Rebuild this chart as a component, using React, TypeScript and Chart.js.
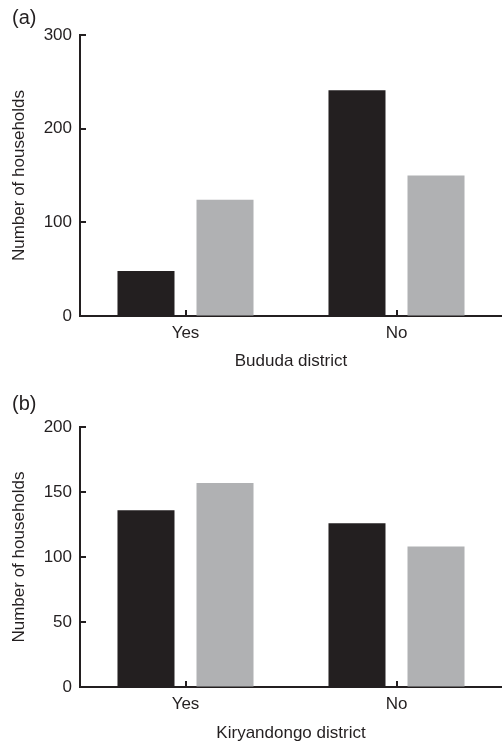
import React, { useEffect, useRef } from "react";
import { Chart, registerables } from "chart.js";

Chart.register(...registerables);

const categories = ["Yes", "No"];
const bududaBlack = [48, 241];
const bududaGray = [124, 150];
const kiryBlack = [136, 126];
const kiryGray = [157, 108];
const bududaTicks = [0, 100, 200, 300];
const kiryTicks = [0, 50, 100, 150, 200];
const yTitle = "Number of households";

const FONT = "'Liberation Sans', Arial, Helvetica, sans-serif";
const INK = "#231f20";
const GRAY = "#b0b1b3";

type PanelProps = {
  tag: string;
  district: string;
  black: number[];
  gray: number[];
  ticks: number[];
  top: number;
  axisH: number;
  tagY: number;
};

function Panel(p: PanelProps) {
  const ref = useRef<HTMLCanvasElement | null>(null);
  useEffect(() => {
    if (!ref.current) return;
    const max = p.ticks[p.ticks.length - 1];
    const decor = {
      id: "decor",
      afterDatasetsDraw(chart: any) {
        const { ctx, chartArea, scales } = chart;
        ctx.save();
        ctx.strokeStyle = INK;
        ctx.lineWidth = 2;
        scales.y.ticks.forEach((t: any) => {
          const y = Math.round(scales.y.getPixelForValue(t.value));
          ctx.beginPath();
          ctx.moveTo(chartArea.left, y);
          ctx.lineTo(chartArea.left + 6, y);
          ctx.stroke();
        });
        scales.x.ticks.forEach((_t: any, i: number) => {
          const x = Math.round(scales.x.getPixelForTick(i));
          ctx.beginPath();
          ctx.moveTo(x, chartArea.bottom);
          ctx.lineTo(x, chartArea.bottom - 6);
          ctx.stroke();
        });
        ctx.fillStyle = INK;
        ctx.font = `20px ${FONT}`;
        ctx.textBaseline = "alphabetic";
        ctx.textAlign = "left";
        ctx.fillText(p.tag, 12, p.tagY);
        ctx.restore();
      },
    };
    const font = { family: FONT, size: 17 };
    const chart = new Chart(ref.current, {
      type: "bar",
      data: {
        labels: categories,
        datasets: [
          {
            data: p.black,
            backgroundColor: INK,
            borderWidth: 0,
            categoryPercentage: 0.749,
            barPercentage: 0.7215,
          },
          {
            data: p.gray,
            backgroundColor: GRAY,
            borderWidth: 0,
            categoryPercentage: 0.749,
            barPercentage: 0.7215,
          },
        ],
      },
      options: {
        animation: false,
        responsive: false,
        maintainAspectRatio: false,
        layout: { padding: { top: p.top, left: 0, right: 0, bottom: 0 } },
        plugins: {
          legend: { display: false },
          tooltip: { enabled: false },
          title: { display: false },
        },
        scales: {
          x: {
            grid: { display: true, drawOnChartArea: false, drawTicks: false },
            border: { display: true, color: INK, width: 2 },
            ticks: { color: INK, font, padding: 7 },
            title: {
              display: true,
              text: p.district,
              color: INK,
              font,
              padding: { top: 0, bottom: 0.5 },
            },
            afterFit: (s: any) => {
              s.height = p.axisH;
            },
          },
          y: {
            min: 0,
            max,
            grid: { display: true, drawOnChartArea: false, drawTicks: false },
            border: { display: true, color: INK, width: 2 },
            ticks: { color: INK, font, padding: 8 },
            afterBuildTicks: (s: any) => {
              s.ticks = p.ticks.map((v) => ({ value: v }));
            },
            title: {
              display: true,
              text: yTitle,
              color: INK,
              font,
              padding: { top: 9.3, bottom: 0 },
            },
            afterFit: (s: any) => {
              s.width = 80;
            },
          },
        },
      },
      plugins: [decor],
    } as any);
    return () => chart.destroy();
  }, []);
  return (
    <canvas
      ref={ref}
      width={502}
      height={372}
      style={{ display: "block", width: 502, height: 372 }}
    />
  );
}

export default function App() {
  return (
    <div
      style={{
        position: "absolute",
        left: 0,
        top: 0,
        width: 502,
        height: 744,
        background: "#ffffff",
      }}
    >
      <Panel
        tag="(a)"
        district="Bududa district"
        black={bududaBlack}
        gray={bududaGray}
        ticks={bududaTicks}
        top={35}
        axisH={56}
        tagY={24}
      />
      <Panel
        tag="(b)"
        district="Kiryandongo district"
        black={kiryBlack}
        gray={kiryGray}
        ticks={kiryTicks}
        top={55}
        axisH={57}
        tagY={38}
      />
    </div>
  );
}
